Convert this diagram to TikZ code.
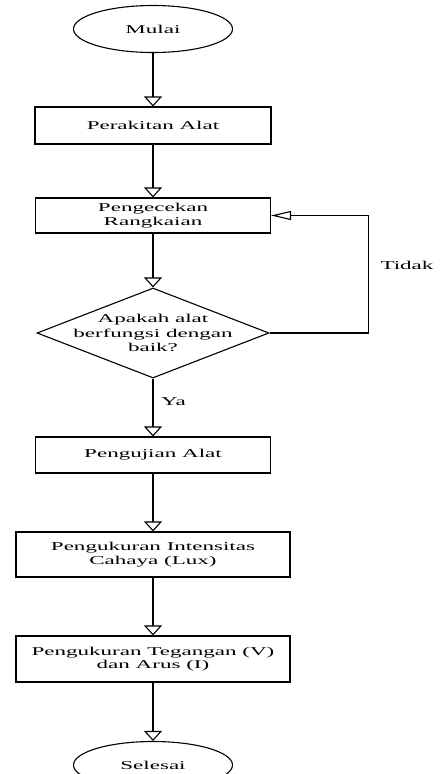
\documentclass[tikz,border=0pt]{standalone}
\usepackage{fontspec}
\setmainfont{Liberation Serif}[FakeStretch=1.92]
\usetikzlibrary{shapes.geometric,arrows.meta}

\begin{document}
\begin{tikzpicture}[x=1pt,y=-1pt,line width=1.1pt,
    font=\fontsize{12}{13.3}\selectfont,
    terminal/.style={draw,ellipse,inner sep=0pt,minimum width=159pt,minimum height=47pt},
    process/.style={draw,rectangle,inner sep=0pt,align=center},
    decision/.style={draw,diamond,inner sep=0pt,aspect=2.58,minimum width=232pt,minimum height=90pt},
    down/.style={-{Triangle[open,length=10pt,width=18pt]}},
    back/.style={-{Triangle[open,length=20pt,width=9pt]}}]
    \useasboundingbox (0,0) rectangle (444,774);
    % nodes
    \node[terminal] (mulai) at (153,29) {Mulai};
    \node[process,minimum width=236pt,minimum height=37pt] (rakit) at (153,125.5) {Perakitan Alat};
    \node[process,minimum width=235pt,minimum height=35pt] (rangkai) at (153,215.5) {Pengecekan\\Rangkaian};
    \node[decision] (cek) at (153,333) {};
    \node[align=center,font=\fontsize{12}{14.5}\selectfont] (cektext) at (cek) {Apakah alat\\berfungsi dengan\\baik?};
    \node[process,minimum width=235pt,minimum height=36pt] (uji) at (153,455) {Pengujian Alat};
    \node[process,minimum width=274pt,minimum height=45pt] (lux) at (153,554.5) {Pengukuran Intensitas\\Cahaya (Lux)};
    \node[process,minimum width=274pt,minimum height=46pt] (volt) at (153,659) {Pengukuran Tegangan (V)\\dan Arus (I)};
    \node[terminal] (selesai) at (153,765) {Selesai};
    \node (tidak) at (407,265) {Tidak};
    \node (ya) at (173.5,402) {Ya};
    % connectors
    \draw[down] (mulai) -- (rakit);
    \draw[down] (rakit) -- (rangkai);
    \draw[down] (rangkai) -- (cek);
    \draw[down] (cek) -- (uji);
    \draw[down] (uji) -- (lux);
    \draw[down] (lux) -- (volt);
    \draw[down] (volt) -- (selesai);
    \draw[back] (cek.east) -- ++(99,0) |- (rangkai.east);
\end{tikzpicture}
\end{document}
